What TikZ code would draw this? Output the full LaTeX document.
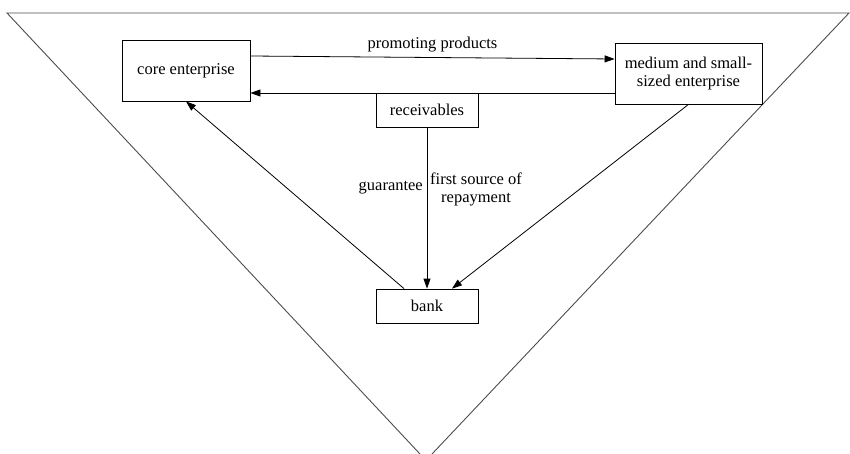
\documentclass[tikz,border=0pt]{standalone}
\usepackage{fontspec}
\setmainfont{Liberation Serif}
\usetikzlibrary{arrows.meta}
\begin{document}
\begin{tikzpicture}[x=1pt,y=-1pt,
  box/.style={draw,line width=0.8pt,inner sep=0pt,font=\fontsize{16.5}{18}\selectfont,align=center},
  arr/.style={line width=0.8pt,-{Triangle[length=10pt,width=7pt]}},
  lbl/.style={font=\fontsize{16.5}{18}\selectfont,align=center,inner sep=0pt},
  frame/.style={line width=0.9pt,draw=black!70}]
\useasboundingbox (0,0) rectangle (850,454);
% outer triangle
\coordinate (tl) at (7,13);
\coordinate (tr) at (849,13);
\coordinate (bl) at (420,454);
\coordinate (br) at (432,454);
\draw[frame] (bl) -- (tl) -- (tr) -- (br);
% boxes
\node[box,minimum width=128pt,minimum height=61pt] (core) at (186,70.5) {core enterprise};
\node[box,minimum width=147pt,minimum height=61pt] (sme) at (688.5,73.5) {medium and small-\\sized enterprise};
\node[box,minimum width=102pt,minimum height=34pt] (rec) at (427,110) {receivables};
\node[box,minimum width=102pt,minimum height=34pt] (bank) at (427,306) {bank};
% arrows
\draw[arr] (core.east |- 0,56) -- node[lbl,above=5pt]{promoting products} (sme.west |- 0,59);
\draw[arr] (sme.west |- 0,93) -- (core.east |- 0,93);
\draw[arr] (rec.south) -- (bank.north);
\draw[arr] (bank.north -| 404,0) -- (core.south -| 186,0);
\draw[arr] (sme.south) -- (bank.north -| 452,0);
\node[lbl,anchor=east] (g) at (423,188) {guarantee};
\node[lbl,anchor=west] (fs) at (430,189) {first source of\\repayment};
\end{tikzpicture}
\end{document}
